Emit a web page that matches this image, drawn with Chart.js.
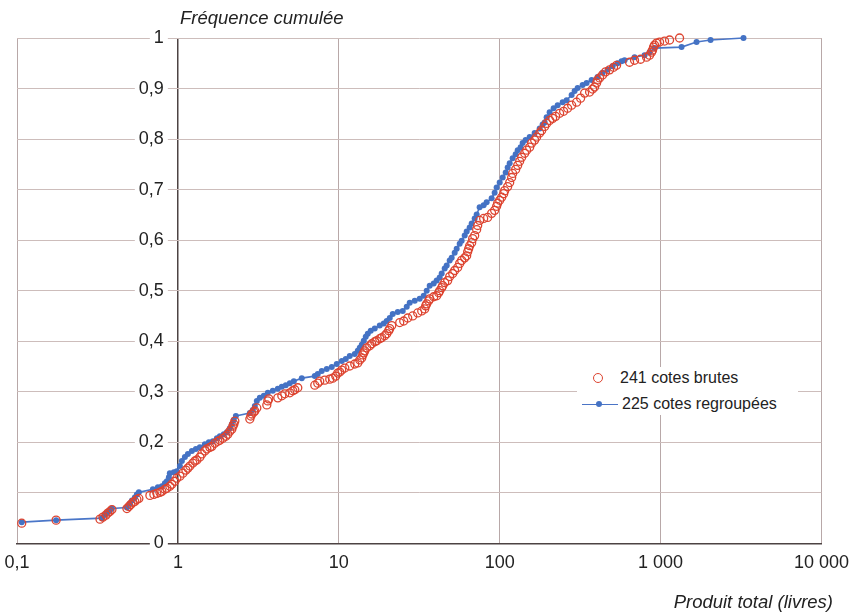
<!DOCTYPE html>
<html>
<head>
<meta charset="utf-8">
<script src="https://cdn.jsdelivr.net/npm/chart.js@4.4.0/dist/chart.umd.min.js"></script>
<style>
html,body{margin:0;padding:0;background:#fff;}
#wrap{position:relative;width:849px;height:614px;overflow:hidden;}
#c{position:absolute;left:0;top:0;}
.t{position:absolute;font-family:"Liberation Sans",Arial,sans-serif;font-style:italic;font-size:18.5px;color:#222;white-space:nowrap;line-height:22px;}
#legend{position:absolute;left:577px;top:367px;width:221px;height:48px;background:#fff;font-family:"Liberation Sans",Arial,sans-serif;font-size:16px;color:#222;}
#legend .txt{position:absolute;white-space:nowrap;line-height:22px;}
.mk-red{position:absolute;width:8px;height:8px;border:1.3px solid #dd4430;border-radius:50%;box-sizing:content-box;}
.mk-line{position:absolute;height:1.6px;background:#4a74c6;}
.mk-dot{position:absolute;width:6px;height:6px;background:#4472c4;border-radius:50%;}
</style>
</head>
<body>
<div id="wrap">
<canvas id="c" width="849" height="614"></canvas>
<div class="t" style="left:180px;top:7px;">Fréquence cumulée</div>
<div class="t" style="right:16px;top:591px;">Produit total (livres)</div>
<div id="legend">
  <span class="mk-red" style="left:16px;top:6px;"></span>
  <span class="txt" style="left:43px;top:0px;">241 cotes brutes</span>
  <span class="mk-line" style="left:5px;top:36.5px;width:36px;"></span>
  <span class="mk-dot" style="left:19px;top:34px;"></span>
  <span class="txt" style="left:45px;top:26px;">225 cotes regroupées</span>
</div>
</div>
<script>
const xTickValues = [0.1, 1, 10, 100, 1000, 10000];
const xTickLabels = ['0,1', '1', '10', '100', '1 000', '10 000'];
const yTickValues = [0, 0.1, 0.2, 0.3, 0.4, 0.5, 0.6, 0.7, 0.8, 0.9, 1];
const yTickLabels = ['0', '', '0,2', '0,3', '0,4', '0,5', '0,6', '0,7', '0,8', '0,9', '1'];
const seriesLabels = ['241 cotes brutes', '225 cotes regroupées'];

// 241 cotes brutes (produit total, fréquence cumulée)
const brutesX = [
  0.107, 0.175, 0.328, 0.342, 0.357, 0.367, 0.378, 0.389, 0.482, 0.496, 0.510, 0.525, 0.540, 0.556, 0.572, 0.670, 0.709, 0.740, 0.773, 0.795, 0.830, 0.854, 0.891, 0.917, 0.957, 0.985,
  1.029, 1.074, 1.121, 1.154, 1.187, 1.239, 1.275, 1.312, 1.370, 1.409, 1.471, 1.514, 1.580, 1.626, 1.697, 1.772, 1.823, 1.903, 1.986, 2.044, 2.103, 2.164, 2.196, 2.227, 2.259, 2.800, 2.840, 2.881, 2.965, 3.007, 3.094, 3.570, 3.621, 3.674, 4.178, 4.424, 4.618, 4.960, 5.177, 5.328, 5.561, 7.091, 7.402, 7.617, 8.181, 8.787, 9.172, 9.574, 9.852,
  10.14, 10.44, 10.90, 11.70, 12.57, 13.12, 13.50, 13.89, 14.09, 14.30, 14.50, 14.92, 15.58, 16.03, 16.73, 17.22, 17.97, 18.49, 19.30, 19.86, 20.44, 20.74, 21.34, 23.92, 25.33, 26.82, 28.81, 30.94, 32.77, 34.20, 34.69, 35.19, 36.21, 36.74, 38.90, 40.60, 41.78, 42.38, 43.61, 44.24, 45.52, 47.52, 48.90, 51.04, 52.52, 54.82, 56.41, 58.05, 60.59, 62.35, 63.25, 64.16, 65.08, 66.97, 67.93, 69.90, 71.93, 72.97, 75.08, 79.50, 84.18, 89.14, 93.04, 95.74, 97.12,
  100, 102.9, 105.9, 107.4, 112.1, 115.4, 118.7, 120.4, 125.7, 129.4, 133.1, 137.0, 143.0, 147.1, 153.6, 158.0, 164.9, 169.7, 177.2, 182.3, 190.3, 195.8, 204.4, 213.4, 222.7, 235.8, 249.7, 264.4, 280.0, 300.7, 318.4, 337.2, 362.1, 378.0, 389.0, 400.3, 406.0, 417.8, 436.1, 455.2, 482.0, 510.4, 532.8, 641.6, 689.1, 750.8, 818.1, 853.9, 878.7, 891.4, 904.2, 917.2, 943.8, 985.8, 1058.8, 1137.3, 1312.1
];
const brutesY = [
  0.040, 0.046, 0.048, 0.052, 0.056, 0.060, 0.063, 0.067, 0.069, 0.073, 0.077, 0.081, 0.083, 0.087, 0.089, 0.095, 0.097, 0.099, 0.101, 0.103, 0.107, 0.109, 0.113, 0.117, 0.123, 0.129,
  0.133, 0.139, 0.145, 0.149, 0.153, 0.159, 0.163, 0.165, 0.171, 0.177, 0.183, 0.187, 0.190, 0.192, 0.198, 0.202, 0.204, 0.208, 0.212, 0.216, 0.222, 0.226, 0.232, 0.236, 0.242, 0.246, 0.252, 0.256, 0.260, 0.262, 0.268, 0.274, 0.282, 0.286, 0.288, 0.292, 0.296, 0.298, 0.302, 0.304, 0.308, 0.313, 0.317, 0.321, 0.323, 0.325, 0.327, 0.331, 0.337,
  0.339, 0.343, 0.347, 0.351, 0.355, 0.357, 0.363, 0.367, 0.373, 0.377, 0.381, 0.387, 0.391, 0.395, 0.399, 0.401, 0.405, 0.407, 0.411, 0.415, 0.421, 0.425, 0.431, 0.437, 0.440, 0.446, 0.450, 0.456, 0.460, 0.464, 0.470, 0.474, 0.480, 0.484, 0.488, 0.490, 0.496, 0.500, 0.506, 0.510, 0.516, 0.520, 0.528, 0.534, 0.540, 0.546, 0.554, 0.560, 0.565, 0.569, 0.577, 0.583, 0.589, 0.595, 0.603, 0.609, 0.621, 0.629, 0.639, 0.643, 0.645, 0.653, 0.659, 0.667, 0.673,
  0.679, 0.685, 0.692, 0.698, 0.706, 0.714, 0.724, 0.732, 0.740, 0.748, 0.756, 0.764, 0.772, 0.778, 0.784, 0.792, 0.798, 0.804, 0.812, 0.817, 0.825, 0.831, 0.837, 0.841, 0.845, 0.851, 0.855, 0.861, 0.867, 0.873, 0.881, 0.891, 0.893, 0.899, 0.903, 0.911, 0.917, 0.921, 0.927, 0.933, 0.937, 0.942, 0.946, 0.952, 0.956, 0.958, 0.962, 0.966, 0.972, 0.976, 0.982, 0.986, 0.990, 0.992, 0.994, 0.996, 1.000
];

// 225 cotes regroupées
const regroupX = [
  0.107, 0.175, 0.337, 0.352, 0.362, 0.378, 0.389, 0.482, 0.503, 0.518, 0.540, 0.556, 0.572, 0.699, 0.751, 0.795, 0.830, 0.854, 0.879, 0.891, 0.944, 0.985,
  1.029, 1.059, 1.105, 1.154, 1.222, 1.294, 1.370, 1.471, 1.558, 1.649, 1.747, 1.823, 1.930, 2.015, 2.103, 2.164, 2.227, 2.292, 2.800, 2.922, 3.007, 3.094, 3.230, 3.420, 3.621, 3.890, 4.178, 4.424, 4.684, 4.960, 5.252, 5.888, 7.091, 7.402, 7.837, 8.418, 9.042, 9.712,
  10.44, 11.05, 11.70, 12.57, 13.12, 13.50, 13.89, 14.30, 14.71, 15.14, 15.80, 16.73, 17.97, 19.03, 19.86, 20.74, 21.64, 23.25, 24.97, 26.44, 27.60, 29.65, 31.84, 33.72, 35.19, 36.74, 38.90, 40.60, 42.38, 43.61, 45.52, 46.84, 48.90, 50.31, 52.52, 54.04, 56.41, 58.05, 60.59, 62.35, 65.08, 66.97, 69.90, 71.93, 75.08, 79.50, 82.99, 89.14, 93.04, 95.74,
  100, 104.4, 109.0, 112.1, 115.4, 120.4, 125.7, 129.4, 135.0, 138.9, 145.0, 153.6, 164.9, 177.2, 184.9, 190.3, 195.8, 204.4, 216.4, 229.2, 246.2, 260.7, 280.0, 292.2, 305.1, 327.7, 346.9, 372.7, 406.0, 436.1, 468.4, 503.1, 540.4, 572.2, 597.3, 689.1, 795.0, 853.9, 917.2, 1350, 1673, 2044, 3277
];
const regroupY = [
  0.042, 0.046, 0.050, 0.056, 0.060, 0.065, 0.069, 0.071, 0.079, 0.085, 0.091, 0.097, 0.101, 0.107, 0.111, 0.113, 0.119, 0.123, 0.131, 0.139, 0.141, 0.143,
  0.153, 0.163, 0.171, 0.177, 0.183, 0.187, 0.190, 0.196, 0.200, 0.202, 0.208, 0.212, 0.216, 0.220, 0.228, 0.236, 0.244, 0.252, 0.258, 0.264, 0.272, 0.282, 0.288, 0.292, 0.298, 0.302, 0.306, 0.310, 0.313, 0.317, 0.321, 0.327, 0.331, 0.335, 0.341, 0.345, 0.349, 0.355,
  0.361, 0.365, 0.371, 0.375, 0.381, 0.387, 0.393, 0.401, 0.409, 0.415, 0.421, 0.425, 0.431, 0.435, 0.440, 0.446, 0.454, 0.458, 0.460, 0.468, 0.476, 0.480, 0.484, 0.490, 0.500, 0.510, 0.514, 0.520, 0.526, 0.534, 0.544, 0.550, 0.560, 0.565, 0.575, 0.583, 0.593, 0.599, 0.609, 0.617, 0.625, 0.633, 0.643, 0.651, 0.665, 0.669, 0.675, 0.683, 0.694, 0.704,
  0.714, 0.724, 0.734, 0.744, 0.752, 0.762, 0.770, 0.778, 0.784, 0.792, 0.798, 0.804, 0.812, 0.821, 0.829, 0.833, 0.843, 0.853, 0.861, 0.867, 0.873, 0.877, 0.887, 0.895, 0.901, 0.907, 0.911, 0.917, 0.923, 0.931, 0.937, 0.944, 0.950, 0.954, 0.956, 0.962, 0.966, 0.972, 0.980, 0.982, 0.992, 0.996, 1.000
];

const zip = (xs, ys) => xs.map((x, i) => ({ x: x, y: ys[i] }));
const FONT = '"Liberation Sans", Arial, sans-serif';
const RED = '#dd4430';
const BLUE = '#4472c4';

new Chart(document.getElementById('c'), {
  type: 'scatter',
  data: {
    datasets: [
      {
        label: seriesLabels[0],
        data: zip(brutesX, brutesY),
        showLine: false,
        pointStyle: 'circle',
        pointRadius: 4,
        pointBorderWidth: 1.3,
        pointBorderColor: RED,
        pointBackgroundColor: 'rgba(255,255,255,0)',
        clip: false
      },
      {
        label: seriesLabels[1],
        data: zip(regroupX, regroupY),
        showLine: true,
        borderColor: '#4a76c8',
        borderWidth: 1.6,
        pointStyle: 'circle',
        pointRadius: 3,
        pointBorderWidth: 0,
        pointBackgroundColor: BLUE,
        clip: false
      }
    ]
  },
  options: {
    responsive: false,
    animation: false,
    devicePixelRatio: 1,
    events: [],
    layout: { padding: { left: 17, right: 27, top: 38, bottom: 40 } },
    plugins: { legend: { display: false }, tooltip: { enabled: false }, title: { display: false } },
    scales: {
      x: {
        type: 'logarithmic',
        position: 'bottom',
        min: 0.1,
        max: 10000,
        afterBuildTicks: (s) => { s.ticks = xTickValues.map(v => ({ value: v })); },
        ticks: {
          autoSkip: false,
          maxRotation: 0,
          padding: 0,
          color: '#222',
          font: { family: FONT, size: 18 },
          callback: (v) => { const i = xTickValues.indexOf(v); return i >= 0 ? xTickLabels[i] : ''; }
        },
        grid: {
          drawTicks: true,
          tickLength: 9,
          tickColor: 'rgba(0,0,0,0)',
          color: (c) => (c.tick && c.tick.value === 1) ? '#4d4343' : '#b8a8a8',
          lineWidth: (c) => (c.tick && c.tick.value === 1) ? 1.5 : 1
        },
        border: { display: true, color: '#4d4343', width: 1.5 }
      },
      y: {
        type: 'linear',
        position: { x: 0.818 },
        min: 0,
        max: 1,
        afterBuildTicks: (s) => { s.ticks = yTickValues.map(v => ({ value: v })); },
        ticks: {
          autoSkip: false,
          color: '#222',
          font: { family: FONT, size: 18 },
          showLabelBackdrop: true,
          backdropColor: (c) => (yTickLabels[c.index] ? '#ffffff' : 'rgba(255,255,255,0)'),
          backdropPadding: { x: 4, y: 1 },
          callback: (v) => { const i = yTickValues.findIndex(t => Math.abs(t - v) < 1e-9); return i >= 0 ? yTickLabels[i] : ''; }
        },
        grid: { drawTicks: false, color: '#cdbdbb', lineWidth: 1 },
        border: { display: false }
      }
    }
  }
});
</script>
</body>
</html>
